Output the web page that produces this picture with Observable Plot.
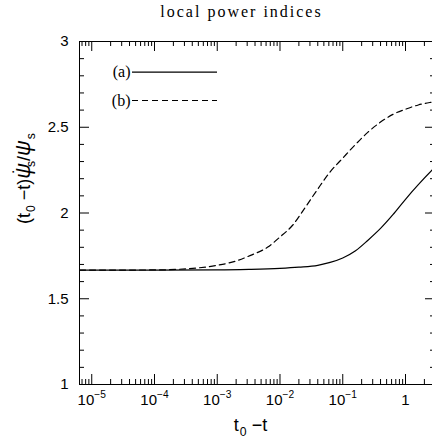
<!DOCTYPE html>
<html><head><meta charset="utf-8">
<script src="https://cdn.jsdelivr.net/npm/d3@7"></script>
<script src="https://cdn.jsdelivr.net/npm/@observablehq/plot@0.6"></script>
<style>
html,body{margin:0;padding:0;background:#fff;overflow:hidden;width:432px;height:440px}
#chart{width:432px;height:440px;overflow:hidden}
</style></head><body><div id="chart"></div>
<script>
// ---- data ----
const titleText = ["local power indices"];
const xTickValues = [1e-5, 1e-4, 1e-3, 1e-2, 1e-1, 1];
const xTickLabels = ["10^−5", "10^−4", "10^−3", "10^−2", "10^−1", "1"];
const yTickValues = [1, 1.5, 2, 2.5, 3];
const yTickLabels = ["1", "1.5", "2", "2.5", "3"];
const xLabel = "t_0 −t";
const yLabel = "(t_0 −t)ψ*_s/ψ_s";
const seriesNames = ["(a)", "(b)"];
const seriesAx = [6.4e-6, 1e-5, 1e-4, 1e-3, 3.2e-3, 1e-2, 2e-2, 4e-2, 6.3e-2, 0.1, 0.16, 0.25, 0.4, 0.63, 1, 1.6, 2.7, 3.0];
const seriesAy = [1.667, 1.667, 1.667, 1.668, 1.671, 1.677, 1.684, 1.695, 1.712, 1.738, 1.78, 1.84, 1.91, 1.99, 2.08, 2.165, 2.253, 2.27];
const seriesBx = [6.4e-6, 1e-5, 1e-4, 2.5e-4, 5e-4, 1e-3, 2e-3, 3.4e-3, 6.3e-3, 1e-2, 1.6e-2, 2.5e-2, 4e-2, 6.3e-2, 0.1, 0.16, 0.25, 0.4, 0.63, 1, 1.6, 2.5, 3.0];
const seriesBy = [1.667, 1.667, 1.668, 1.672, 1.68, 1.695, 1.72, 1.753, 1.80, 1.86, 1.93, 2.03, 2.14, 2.24, 2.32, 2.40, 2.47, 2.53, 2.575, 2.605, 2.63, 2.645, 2.65];

// ---- layout ----
const W = 436, H = 440, mL = 79, mR = 1, mT = 41, mB = 56;
const iW = W - mL - mR, iH = H - mT - mB;
const MAJ = 10, MIN = 5;
const xDomain = [Math.pow(10, -5.195), Math.pow(10, 0.478)];
const yDomain = [1, 3];

const rowsA = seriesAx.map((x, i) => ({x, y: seriesAy[i]}));
const rowsB = seriesBx.map((x, i) => ({x, y: seriesBy[i]}));

const decades = [xTickValues[0] / 10, ...xTickValues];
const xMinor = [];
for (const d of decades) for (let k = 2; k <= 9; k++) {
  const v = k * d;
  if (v > xDomain[0] && v < xDomain[1]) xMinor.push(v);
}
const yMinor = d3.range(11, 30).map(v => v / 10).filter(v => !yTickValues.includes(v));
const yAt = py => yDomain[1] - (py - mT) / iH * (yDomain[1] - yDomain[0]);
const legendRows = [71.7, 100];
const serif = "Liberation Serif, Times New Roman, serif";

const plot = Plot.plot({
  width: W, height: H,
  marginLeft: mL, marginRight: mR, marginTop: mT, marginBottom: mB,
  style: {maxWidth: "none", fontFamily: "Liberation Sans, Arial, sans-serif", fontSize: "15px", color: "black", background: "white"},
  x: {type: "log", domain: xDomain},
  y: {domain: yDomain},
  marks: [
    Plot.frame({stroke: "black", strokeWidth: 1}),
    // inward ticks on all four sides
    Plot.tickX(xTickValues, {x: d => d, insetTop: iH - MAJ, stroke: "black"}),
    Plot.tickX(xMinor, {x: d => d, insetTop: iH - MIN, stroke: "black"}),
    Plot.tickX(xTickValues, {x: d => d, insetBottom: iH - MAJ, stroke: "black"}),
    Plot.tickX(xMinor, {x: d => d, insetBottom: iH - MIN, stroke: "black"}),
    Plot.tickY(yTickValues, {y: d => d, insetRight: iW - MAJ, stroke: "black"}),
    Plot.tickY(yMinor, {y: d => d, insetRight: iW - MIN, stroke: "black"}),
    Plot.tickY(yTickValues, {y: d => d, insetLeft: iW - MAJ, stroke: "black"}),
    Plot.tickY(yMinor, {y: d => d, insetLeft: iW - MIN, stroke: "black"}),
    Plot.axisX(xTickValues, {anchor: "bottom", tickSize: 0, tickPadding: 10, fontSize: 15, label: null,
      tickFormat: d => xTickLabels[xTickValues.indexOf(d)]}),
    Plot.axisY(yTickValues, {anchor: "left", tickSize: 0, tickPadding: 11, fontSize: 15, label: null,
      tickFormat: d => yTickLabels[yTickValues.indexOf(d)]}),
    // curves
    Plot.line(rowsA, {x: "x", y: "y", stroke: "black", strokeWidth: 1.2, curve: "monotone-x", clip: true}),
    Plot.line(rowsB, {x: "x", y: "y", stroke: "black", strokeWidth: 1.2, strokeDasharray: "6,4", curve: "monotone-x", clip: true}),
    // legend
    Plot.text([seriesNames[0]], {frameAnchor: "top-left", dx: 51, dy: legendRows[0] - mT, textAnchor: "end", lineAnchor: "middle", fontFamily: serif, fontSize: 16}),
    Plot.text([seriesNames[1]], {frameAnchor: "top-left", dx: 51, dy: legendRows[1] - mT, textAnchor: "end", lineAnchor: "middle", fontFamily: serif, fontSize: 16}),
    Plot.tickY([yAt(legendRows[0])], {y: d => d, insetLeft: 132 - mL, insetRight: iW - (217 - mL), stroke: "black", strokeWidth: 1.2}),
    Plot.tickY([yAt(legendRows[1])], {y: d => d, insetLeft: 132 - mL, insetRight: iW - (217 - mL), stroke: "black", strokeWidth: 1.2, strokeDasharray: "6,4"}),
    // title and axis labels
    Plot.text(titleText, {frameAnchor: "top", dx: -16, dy: 16.7 - mT, lineAnchor: "bottom", fontFamily: serif, fontSize: 16}),
    Plot.text([xLabel], {frameAnchor: "bottom", dx: -7, dy: 46, lineAnchor: "bottom", fontSize: 18}),
    Plot.text([yLabel], {frameAnchor: "left", rotate: -90, dx: -50, dy: 11, lineAnchor: "bottom", fontSize: 18})
  ]
});

function rich(el, fs) {
  const s = el.textContent;
  if (!/[_^ψ*]/.test(s)) return;
  const segs = [];
  let i = 0;
  while (i < s.length) {
    if (s[i] === "_") { segs.push({t: s[i + 1], k: "sub"}); i += 2; }
    else if (s[i] === "^") { segs.push({t: s.slice(i + 1), k: "sup"}); break; }
    else if (s[i] === "*") { segs.push({t: "˙", k: "dot"}); i++; }
    else { segs.push({t: s[i], k: s[i] === "ψ" ? "psi" : "n"}); i++; }
  }
  el.textContent = "";
  let cur = 0;
  for (const sg of segs) {
    const ts = document.createElementNS("http://www.w3.org/2000/svg", "tspan");
    const off = sg.k === "sub" ? 0.3 * fs : sg.k === "sup" ? -0.45 * fs : sg.k === "dot" ? -0.22 * fs : 0;
    if (off !== cur) ts.setAttribute("dy", off - cur);
    cur = off;
    if (sg.k === "sub" || sg.k === "sup") ts.setAttribute("font-size", 0.68 * fs);
    if (sg.k === "psi") { ts.setAttribute("font-size", 1.2 * fs); ts.setAttribute("font-style", "italic"); }
    if (sg.k === "dot") { ts.setAttribute("dx", -0.62 * fs); }
    if (sg.k === "sub") ts.setAttribute("dx", 1);
    ts.textContent = sg.t;
    el.appendChild(ts);
  }
}
plot.querySelectorAll("text").forEach(el => {
  const s = el.textContent;
  if (s === titleText[0]) el.setAttribute("letter-spacing", "2");
  else if (s === xLabel || s === yLabel) rich(el, 18);
  else rich(el, 15);
});
document.getElementById("chart").appendChild(plot);
</script>
</body></html>
